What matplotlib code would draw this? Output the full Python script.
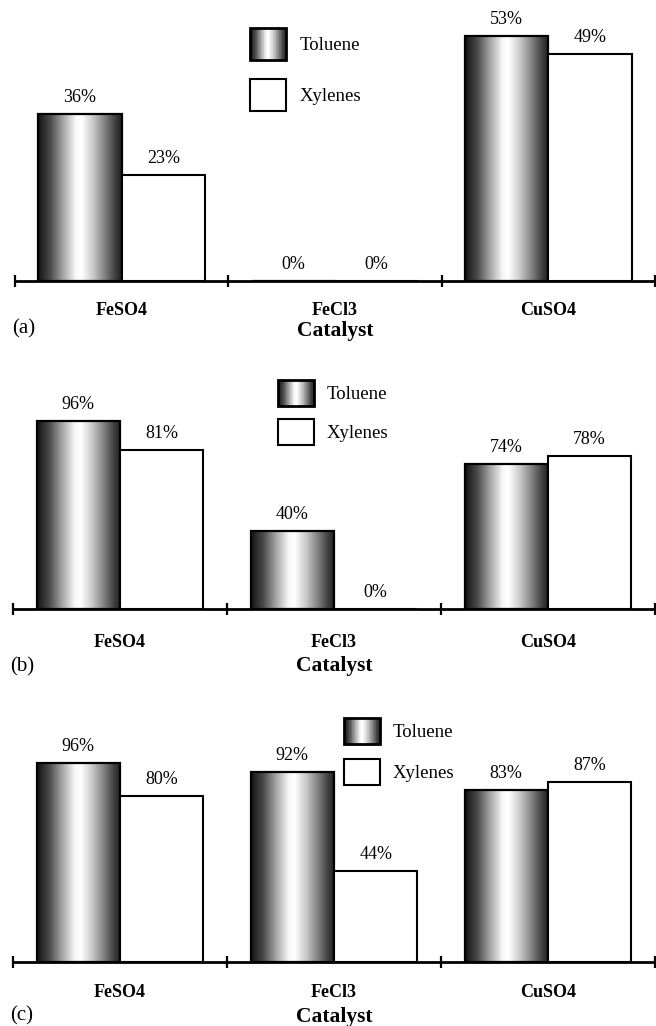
import numpy as np
import matplotlib
matplotlib.use('Agg')
import matplotlib.pyplot as plt
from matplotlib.colors import LinearSegmentedColormap
from matplotlib.legend_handler import HandlerBase
from matplotlib.patches import Rectangle

plt.rcParams['font.family'] = ['Liberation Serif', 'DejaVu Serif']

catalysts = ['FeSO4', 'FeCl3', 'CuSO4']
series = ['Toluene', 'Xylenes']
panel_tags = ['(a)', '(b)', '(c)']
toluene_a = [36, 0, 53]
xylenes_a = [23, 0, 49]
toluene_b = [96, 40, 74]
xylenes_b = [81, 0, 78]
toluene_c = [96, 92, 83]
xylenes_c = [80, 44, 87]

W, H = 656, 1026
fig = plt.figure(figsize=(W / 100, H / 100), dpi=100)

# cylinder-like shading of the toluene bars
shade = LinearSegmentedColormap.from_list('cyl', [
    (0.0, (0.07, 0.07, 0.07)), (0.15, (0.30, 0.30, 0.30)), (0.30, (0.65, 0.65, 0.65)),
    (0.45, (0.97, 0.97, 0.97)), (0.52, (1, 1, 1)), (0.65, (0.80, 0.80, 0.80)),
    (0.80, (0.50, 0.50, 0.50)), (0.92, (0.25, 0.25, 0.25)), (1.0, (0.12, 0.12, 0.12))])


class ShadeHandler(HandlerBase):
    def create_artists(self, legend, orig_handle, xd, yd, width, height, fontsize, trans):
        n = 48
        arts = []
        for k in range(n):
            arts.append(Rectangle((-xd + width * k / n, -yd), width / n * 1.05, height,
                                  facecolor=shade((k + 0.5) / n), edgecolor='none', transform=trans))
        arts.append(Rectangle((-xd, -yd), width, height, facecolor='none',
                              edgecolor='black', lw=2, transform=trans))
        return arts


def px_box(left, top, right, bottom):
    return [left / W, 1 - bottom / H, (right - left) / W, (bottom - top) / H]


# layout per panel (pixels): axes box, px per %, legend, label offsets
panels = [
    dict(tol=toluene_a, xyl=xylenes_a, box=(15, 20, 655, 281), ppu=4.63,
         leg=(250, 28, 32, 51, 14), tick=27, cat=55, tag=52),
    dict(tol=toluene_b, xyl=xylenes_b, box=(13, 370, 655, 609), ppu=1.96,
         leg=(278, 380, 26, 39, 13), tick=31, cat=62, tag=62),
    dict(tol=toluene_c, xyl=xylenes_c, box=(13, 705, 655, 962), ppu=2.07,
         leg=(344, 718, 26, 41, 13), tick=28, cat=60, tag=58),
]

bw = 0.39
x = np.arange(len(catalysts))
for p, tag in zip(panels, panel_tags):
    l, t, r, b = p['box']
    ax = fig.add_axes(px_box(l, t, r, b))
    ymax = (b - t) / p['ppu']

    bt = ax.bar(x - bw / 2, p['tol'], bw, facecolor='none', edgecolor='black', lw=1.6, zorder=3)
    bx = ax.bar(x + bw / 2, p['xyl'], bw, facecolor='white', edgecolor='black', lw=1.5, zorder=3)
    grad = np.linspace(0, 1, 256).reshape(1, -1)
    for patch, v in zip(bt.patches, p['tol']):
        if v <= 0:
            continue
        x0 = patch.get_x()
        im = ax.imshow(grad, cmap=shade, aspect='auto', extent=(x0, x0 + bw, 0, v),
                       interpolation='bilinear', zorder=2)
        im.set_clip_path(patch)

    for xi, v in zip(x - bw / 2, p['tol']):
        ax.annotate(f'{v}%', (xi, v), xytext=(0, 12), textcoords='offset pixels',
                    ha='center', va='baseline', fontsize=13)
    for xi, v in zip(x + bw / 2, p['xyl']):
        ax.annotate(f'{v}%', (xi, v), xytext=(0, 12), textcoords='offset pixels',
                    ha='center', va='baseline', fontsize=13)

    ax.set_xlim(-0.5, 2.5)
    ax.set_ylim(0, ymax)
    for s in ['left', 'right', 'top']:
        ax.spines[s].set_visible(False)
    ax.spines['bottom'].set_linewidth(2)
    ax.set_yticks([])
    ax.set_xticks(x, catalysts, fontsize=13, fontweight='bold')
    ax.set_xticks([-0.5, 0.5, 1.5, 2.5], minor=True)
    ax.tick_params(axis='x', which='major', length=0, pad=(p['tick'] - 6) * 0.72)
    ax.tick_params(axis='x', which='minor', direction='inout', length=8.6, width=1.6)
    ax.patch.set_visible(False)

    ax.annotate('Catalyst', (0.5, 0), xycoords='axes fraction', xytext=(0, -p['cat']),
                textcoords='offset pixels', ha='center', va='baseline',
                fontsize=15.5, fontweight='bold')
    ax.annotate(tag, (0, 0), xycoords='axes fraction', xytext=(-3, -p['tag']),
                textcoords='offset pixels', ha='left', va='baseline', fontsize=15)

    lx, ly, hh, pitch, tpad = p['leg']
    fs = 13.5
    fpx = fs / 0.72
    # legend patch height = fontsize * (0.65 * handleheight + 0.245)
    ax.legend([bt, bx], series, handler_map={bt: ShadeHandler()},
              loc='upper left', bbox_to_anchor=(lx / W, 1 - ly / H), bbox_transform=fig.transFigure,
              frameon=False, borderpad=0, borderaxespad=0, fontsize=fs,
              handlelength=36 / fpx, handleheight=(hh / fpx - 0.245) / 0.65,
              handletextpad=tpad / fpx, labelspacing=(pitch - hh) / fpx)

fig.savefig('out.png', dpi=100)
